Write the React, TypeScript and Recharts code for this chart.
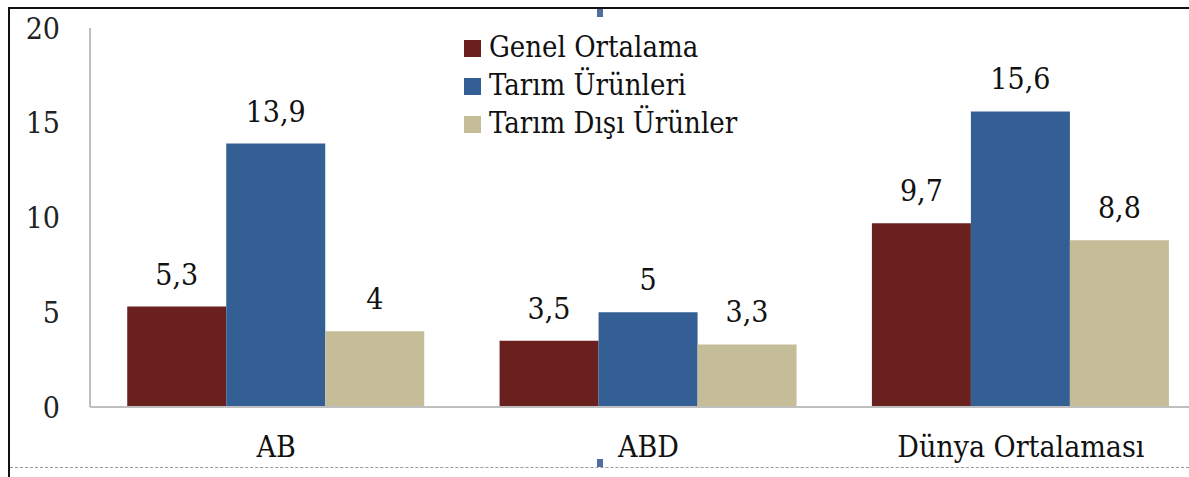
import { BarChart, Bar, XAxis, YAxis, LabelList } from "recharts";

const categories = ["AB", "ABD", "Dünya Ortalaması"];
const genelOrtalama = [5.3, 3.5, 9.7];
const tarimUrunleri = [13.9, 5, 15.6];
const tarimDisi = [4, 3.3, 8.8];
const yTicks = [0, 5, 10, 15, 20];

const seriesNames = ["Genel Ortalama", "Tarım Ürünleri", "Tarım Dışı Ürünler"];
const colors = ["#6B2020", "#335F95", "#C4BD97"];

const data = categories.map((name, i) => ({
  name,
  genel: genelOrtalama[i],
  tarim: tarimUrunleri[i],
  disi: tarimDisi[i],
}));

const font = "'DejaVu Serif', serif";
const stretch = "condensed";
const fmt = (v: any) => String(v).replace(".", ",");
const labelStyle = { fontFamily: font, fontStretch: stretch, fontSize: 30, fill: "#111" };

// legend drawn as a plain block so it doesn't push the plot down
function LegendBox() {
  return (
    <div
      style={{
        position: "absolute",
        left: 464,
        top: 28,
        fontFamily: font,
        fontStretch: stretch,
        fontSize: 29,
        color: "#111",
        lineHeight: "38px",
        whiteSpace: "nowrap",
      }}
    >
      {seriesNames.map((n, i) => (
        <div key={n}>
          <span
            style={{
              display: "inline-block",
              width: 17,
              height: 17,
              background: colors[i],
              marginRight: 8,
              verticalAlign: "baseline",
            }}
          />
          {n}
        </div>
      ))}
    </div>
  );
}

export default function App() {
  return (
    <div
      style={{
        position: "fixed",
        left: 0,
        top: 0,
        width: 1189,
        height: 477,
        overflow: "hidden",
        background: "#fff",
      }}
    >
      {/* frame */}
      <div style={{ position: "absolute", left: 8, top: 7, right: 0, height: 2, background: "#111" }} />
      <div style={{ position: "absolute", left: 8, top: 7, bottom: 0, width: 2, background: "#111" }} />
      <div
        style={{
          position: "absolute",
          left: 10,
          right: 0,
          top: 467,
          borderTop: "1px dashed #999",
        }}
      />
      <div style={{ position: "absolute", left: 597, top: 9, width: 6, height: 8, background: "#4F6F9F" }} />
      <div style={{ position: "absolute", left: 597, top: 459, width: 6, height: 8, background: "#4F6F9F" }} />

      <BarChart
        width={1210}
        height={477}
        data={data}
        margin={{ top: 28, right: 3, left: 0, bottom: 30 }}
        barCategoryGap="10%"
        barGap={0}
        style={{ position: "absolute", left: 0, top: 0 }}
      >
        <XAxis
          dataKey="name"
          axisLine={{ stroke: "#BFBFBF", strokeWidth: 2 }}
          tickLine={false}
          tickMargin={23}
          height={40}
          tick={{ fontFamily: font, fontStretch: stretch, fontSize: 30, fill: "#111" }}
        />
        <YAxis
          domain={[0, 20]}
          ticks={yTicks}
          width={90}
          axisLine={{ stroke: "#BFBFBF", strokeWidth: 2 }}
          tickLine={false}
          tickMargin={24}
          tick={{ fontFamily: font, fontStretch: stretch, fontSize: 30, fill: "#222" }}
        />
        <Bar dataKey="genel" name={seriesNames[0]} fill={colors[0]} isAnimationActive={false}>
          <LabelList dataKey="genel" position="top" offset={22} formatter={fmt} style={labelStyle} />
        </Bar>
        <Bar dataKey="tarim" name={seriesNames[1]} fill={colors[1]} isAnimationActive={false}>
          <LabelList dataKey="tarim" position="top" offset={22} formatter={fmt} style={labelStyle} />
        </Bar>
        <Bar dataKey="disi" name={seriesNames[2]} fill={colors[2]} isAnimationActive={false}>
          <LabelList dataKey="disi" position="top" offset={22} formatter={fmt} style={labelStyle} />
        </Bar>
      </BarChart>
      <LegendBox />
    </div>
  );
}
